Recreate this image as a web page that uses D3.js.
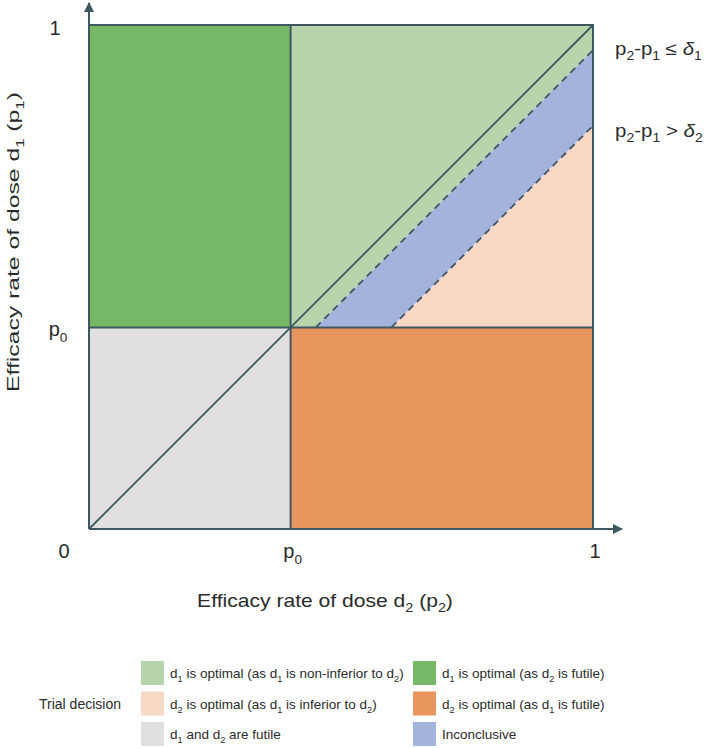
<!DOCTYPE html>
<html><head><meta charset="utf-8">
<script src="https://cdn.jsdelivr.net/npm/d3@7"></script>
<style>
html,body{margin:0;padding:0;background:#fff;}
text{font-family:"Liberation Sans",Arial,sans-serif;fill:#2b2b2b;}
</style></head>
<body><svg id="c" width="709" height="748"></svg>
<script>
// ---- data ----
const p0 = 0.4;
const delta1 = 0.05;
const delta2 = 0.2;
const axisTicks = [{v:0,label:"0"},{v:p0,label:"p_0"},{v:1,label:"1"}];
const regionNames = ["futile","d2futile","d1futile","noninf","inconcl","inferior"];
const regionColors = {futile:"#e0e0df", d2futile:"#77b866", d1futile:"#e9955e", noninf:"#b6d5ad", inconcl:"#a3b4dc", inferior:"#f7d9c6"};
const legendLabels = [
  ["noninf","d_1 is optimal (as d_1 is non-inferior to d_2)"],
  ["inferior","d_2 is optimal (as d_1 is inferior to d_2)"],
  ["futile","d_1 and d_2 are futile"],
  ["d2futile","d_1 is optimal (as d_2 is futile)"],
  ["d1futile","d_2 is optimal (as d_1 is futile)"],
  ["inconcl","Inconclusive"]
];
const boundaryLabels = ["p_2-p_1 ≤ δ_1", "p_2-p_1 > δ_2"];

// ---- drawing ----
const svg = d3.select("#c");
const x = d3.scaleLinear().domain([0,1]).range([89,593]);
const y = d3.scaleLinear().domain([0,1]).range([529,25]);
const lineCol = "#3f5860";

const polys = {
  futile:[[0,0],[p0,0],[p0,p0],[0,p0]],
  d2futile:[[0,p0],[p0,p0],[p0,1],[0,1]],
  d1futile:[[p0,0],[1,0],[1,p0],[p0,p0]],
  noninf:[[p0,p0],[p0,1],[1,1],[1,1-delta1],[p0+delta1,p0]],
  inconcl:[[p0+delta1,p0],[1,1-delta1],[1,1-delta2],[p0+delta2,p0]],
  inferior:[[p0+delta2,p0],[1,1-delta2],[1,p0]]
};
const line = d3.line().x(d=>x(d[0])).y(d=>y(d[1]));
svg.append("g").selectAll("path").data(regionNames).join("path")
  .attr("d", k=>line(polys[k])+"Z").attr("fill", k=>regionColors[k]);

// helper for subscripts and italic delta
function richText(sel, str, size){
  const parts = str.split(/_(\S)/);
  let pend = 0;
  parts.forEach((p,i)=>{
    if(p==="") return;
    if(i%2===1){
      sel.append("tspan").attr("dy", size*0.3 + pend).attr("font-size", size*0.68).text(p);
      pend = -size*0.3;
    } else {
      const segs = p.split(/(δ)/);
      segs.forEach(s=>{
        if(s==="") return;
        const t = sel.append("tspan").text(s);
        if(pend){ t.attr("dy", pend); pend = 0; }
        if(s==="δ") t.attr("font-style","italic");
      });
    }
  });
}
function stretchTo(sel, target){
  const w = sel.node().getBBox().width;
  const k = target / w;
  const old = sel.attr("transform") || "";
  sel.attr("transform", old + ` scale(${k},1)`);
}

const g = svg.append("g").attr("fill","none").attr("stroke",lineCol).attr("stroke-width",2);
g.append("path").attr("d", line([[0,p0],[1,p0]]));
g.append("path").attr("d", line([[p0,0],[p0,1]]));
g.append("path").attr("d", line([[0,1],[1,1],[1,0]]));
g.append("path").attr("d", line([[0,0],[1,1]])).attr("stroke-width",1.8);
[delta1,delta2].forEach(d=>{
  g.append("path").attr("d", line([[p0+d,p0],[1,1-d]])).attr("stroke-dasharray","7,5").attr("stroke-width",1.8);
});
svg.append("defs").append("marker").attr("id","arr").attr("viewBox","0 0 10 10")
  .attr("refX",9).attr("refY",5).attr("markerWidth",5).attr("markerHeight",5).attr("orient","auto")
  .append("path").attr("d","M0,0L10,5L0,10Z").attr("fill",lineCol);
g.append("line").attr("x1",x(0)).attr("y1",y(0)).attr("x2",x(0)).attr("y2",3).attr("marker-end","url(#arr)");
g.append("line").attr("x1",x(0)).attr("y1",y(0)).attr("x2",622).attr("y2",y(0)).attr("marker-end","url(#arr)");

// tick labels
axisTicks.forEach(t=>{
  if(t.v>0){
    const tx = svg.append("text").attr("text-anchor","middle")
      .attr("transform",`translate(${t.v===1?55:58},${y(t.v)+(t.v===1?10:9)})`).attr("font-size",20);
    richText(tx, t.label, 20);
  }
  const tx2 = svg.append("text").attr("text-anchor","middle")
    .attr("transform",`translate(${t.v===0?64:x(t.v)+2},558)`).attr("font-size",20);
  richText(tx2, t.label, 20);
});

// axis titles
const xt = svg.append("text").attr("transform","translate(325,607)").attr("text-anchor","middle").attr("font-size",18);
richText(xt,"Efficacy rate of dose d_2 (p_2)",18);
stretchTo(xt,256);
const yt = svg.append("text").attr("transform","translate(19,242) rotate(-90)").attr("text-anchor","middle").attr("font-size",17);
richText(yt,"Efficacy rate of dose d_1 (p_1)",17);
stretchTo(yt,300);

// boundary labels
[55,137].forEach((by,i)=>{
  const t = svg.append("text").attr("transform",`translate(615,${by})`).attr("font-size",18);
  richText(t,boundaryLabels[i],18);
  stretchTo(t, i===0?87:88);
});

// legend
svg.append("text").attr("x",39).attr("y",709).attr("font-size",14).text("Trial decision");
const lg = svg.append("g").selectAll("g").data(legendLabels).join("g")
  .attr("transform",(d,i)=>`translate(${i<3?141:413},${661+(i%3)*30.5})`);
lg.append("rect").attr("width",23).attr("height",24).attr("fill",d=>regionColors[d[0]]);
lg.each(function(d){
  const t = d3.select(this).append("text").attr("x",29).attr("y",17).attr("font-size",13.5);
  richText(t,d[1],13.5);
});
</script></body></html>
